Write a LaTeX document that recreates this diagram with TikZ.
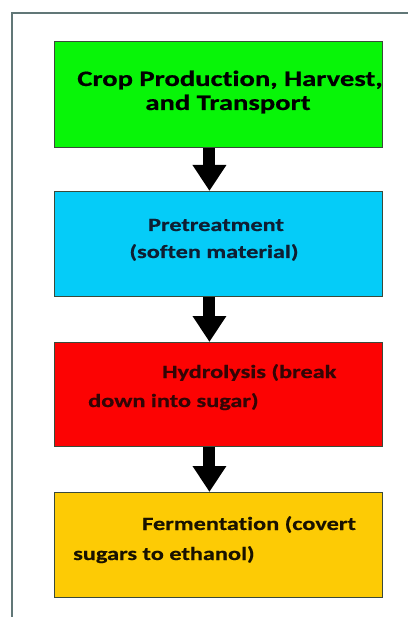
\documentclass[tikz,border=0pt]{standalone}
\usepackage{fontspec}
\usetikzlibrary{arrows.meta,calc}
\newfontfamily\cfont[FakeStretch=1.3,Ligatures=NoCommon,BoldFeatures={FakeBold=0.6}]{Carlito}
\definecolor{framec}{HTML}{617777}
\definecolor{gbox}{HTML}{08F508}
\definecolor{bbox}{HTML}{05CCF8}
\definecolor{rbox}{HTML}{FC0303}
\definecolor{ybox}{HTML}{FDCB05}
\definecolor{edgec}{HTML}{3A4A3A}
\begin{document}
\begin{tikzpicture}[x=1pt,y=-1pt,
  stage/.style={draw=edgec,line width=0.9pt,minimum width=328pt,anchor=north west,inner sep=0pt},
  bigtxt/.style={inner sep=0pt,font=\cfont\bfseries\fontsize{22}{24}\selectfont},
  smtxt/.style={inner sep=0pt,font=\cfont\bfseries\fontsize{18.7}{22}\selectfont},
  flow/.style={-{Triangle[width=32pt,length=26pt]},line width=12pt,black,shorten >=0pt}]
\useasboundingbox (0,0) rectangle (408,617);
\fill[white] (0,0) rectangle (408,617);
\draw[framec,line width=1.6pt] (12,617) -- (12,13) -- (408,13);
\node[stage,fill=gbox,minimum height=106pt] (b1) at (54,41) {};
\node[stage,fill=bbox,minimum height=105pt] (b2) at (54,191) {};
\node[stage,fill=rbox,minimum height=104pt] (b3) at (54,342) {};
\node[stage,fill=ybox,minimum height=105pt] (b4) at (54,492) {};
\node[bigtxt,anchor=base,text=black] (t1a) at (230,86) {Crop Production, Harvest,};
\node[bigtxt,anchor=base,text=black] (t1b) at (228,110) {and Transport};
\node[smtxt,anchor=base,text={rgb,255:red,15;green,30;blue,50}] (t2a) at (216,231) {Pretreatment};
\node[smtxt,anchor=base,text={rgb,255:red,15;green,30;blue,50}] (t2b) at (214,258) {(soften material)};
\node[smtxt,anchor=base west,text={rgb,255:red,50;green,5;blue,5}] (t3a) at (162,378) {Hydrolysis (break};
\node[smtxt,anchor=base west,text={rgb,255:red,50;green,5;blue,5}] (t3b) at (88,407) {down into sugar)};
\node[smtxt,anchor=base west,text={rgb,255:red,25;green,18;blue,0}] (t4a) at (142,530) {Fermentation (covert};
\node[smtxt,anchor=base west,text={rgb,255:red,25;green,18;blue,0}] (t4b) at (73,560) {sugars to ethanol)};
\draw[flow] ($(b1.south)+(-9,0)$) -- ($(b2.north)+(-9,0)$);
\draw[flow] ($(b2.south)+(-9,0)$) -- ($(b3.north)+(-9,0)$);
\draw[flow] ($(b3.south)+(-9,0)$) -- ($(b4.north)+(-9,0)$);
\end{tikzpicture}
\end{document}
